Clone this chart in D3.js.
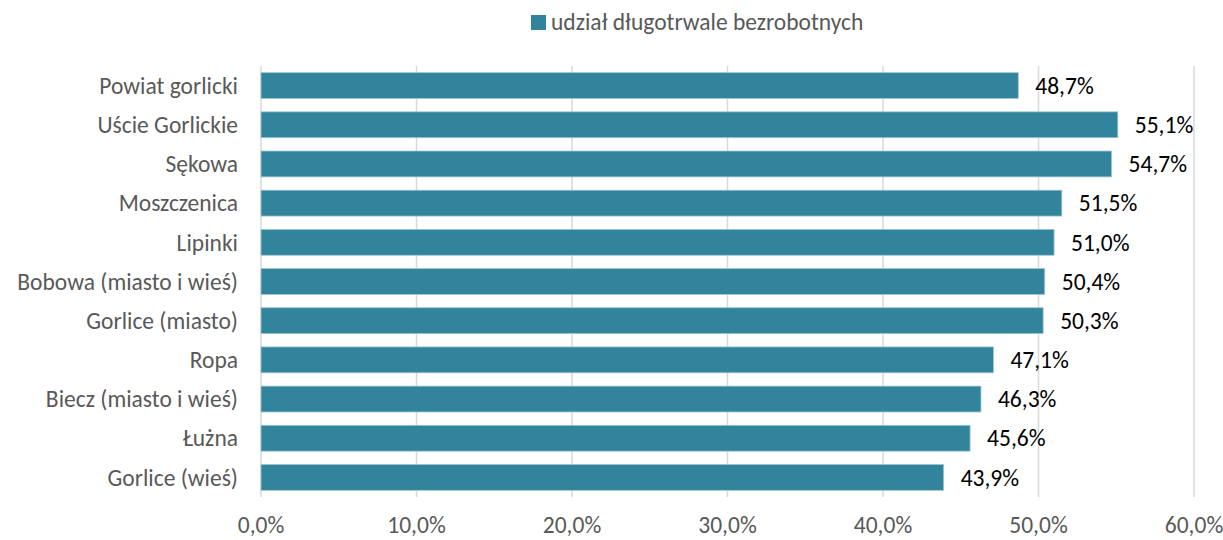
<!DOCTYPE html>
<html>
<head>
<meta charset="utf-8">
<script src="https://cdn.jsdelivr.net/npm/d3@7"></script>
<style>
  body { margin: 0; background: #fff; }
  svg { font-family: Carlito, Lato, "Open Sans", sans-serif; }
</style>
</head>
<body>
<div id="app"></div>
<script>
// dane
const categories = [
  "Powiat gorlicki", "Uście Gorlickie", "Sękowa", "Moszczenica", "Lipinki",
  "Bobowa (miasto i wieś)", "Gorlice (miasto)", "Ropa", "Biecz (miasto i wieś)",
  "Łużna", "Gorlice (wieś)"
];
const values = [48.7, 55.1, 54.7, 51.5, 51.0, 50.4, 50.3, 47.1, 46.3, 45.6, 43.9];
const ticks = [0, 10, 20, 30, 40, 50, 60];
const seriesName = "udział długotrwale bezrobotnych";

const width = 1223, height = 540;
const margin = { top: 66, right: 29, bottom: 43, left: 261 };
const fontSize = "23.5px";

const svg = d3.select("#app").append("svg")
  .attr("width", width)
  .attr("height", height);

const x = d3.scaleLinear().domain([0, 60]).range([margin.left, width - margin.right]);
const y = d3.scaleBand().domain(categories)
  .range([margin.top, height - margin.bottom])
  .paddingInner(0.34).paddingOuter(0.17);

const fmt = v => d3.format(".1f")(v).replace(".", ",") + "%";

// siatka
svg.append("g")
  .selectAll("line")
  .data(ticks)
  .join("line")
  .attr("x1", d => x(d)).attr("x2", d => x(d))
  .attr("y1", margin.top).attr("y2", height - margin.bottom)
  .attr("stroke", "#d9d9d9")
  .attr("stroke-width", 1.5);

// słupki
svg.append("g")
  .selectAll("rect")
  .data(values)
  .join("rect")
  .attr("x", x(0))
  .attr("y", (d, i) => y(categories[i]))
  .attr("width", d => x(d) - x(0))
  .attr("height", y.bandwidth())
  .attr("fill", "#31849b")
  .attr("stroke", "#9cc7d3")
  .attr("stroke-width", 0.8);

// etykiety wartości
svg.append("g")
  .selectAll("text")
  .data(values)
  .join("text")
  .attr("x", d => x(d) + 17)
  .attr("y", (d, i) => y(categories[i]) + y.bandwidth() / 2)
  .attr("dy", "0.35em")
  .attr("fill", "#000")
  .style("font-size", fontSize)
  .text(d => fmt(d));

// kategorie
svg.append("g")
  .selectAll("text")
  .data(categories)
  .join("text")
  .attr("x", margin.left - 23)
  .attr("y", d => y(d) + y.bandwidth() / 2)
  .attr("dy", "0.35em")
  .attr("text-anchor", "end")
  .attr("fill", "#595959")
  .style("font-size", fontSize)
  .text(d => d);

// oś x
svg.append("g")
  .selectAll("text")
  .data(ticks)
  .join("text")
  .attr("x", d => x(d))
  .attr("y", 533)
  .attr("text-anchor", "middle")
  .attr("fill", "#595959")
  .style("font-size", fontSize)
  .text(d => fmt(d));

// legenda
const legend = svg.append("g");
legend.append("rect")
  .attr("x", 531).attr("y", 15)
  .attr("width", 15).attr("height", 15)
  .attr("fill", "#31849b");
legend.append("text")
  .attr("x", 551).attr("y", 30)
  .attr("fill", "#595959")
  .style("font-size", fontSize)
  .text(seriesName);
</script>
</body>
</html>
